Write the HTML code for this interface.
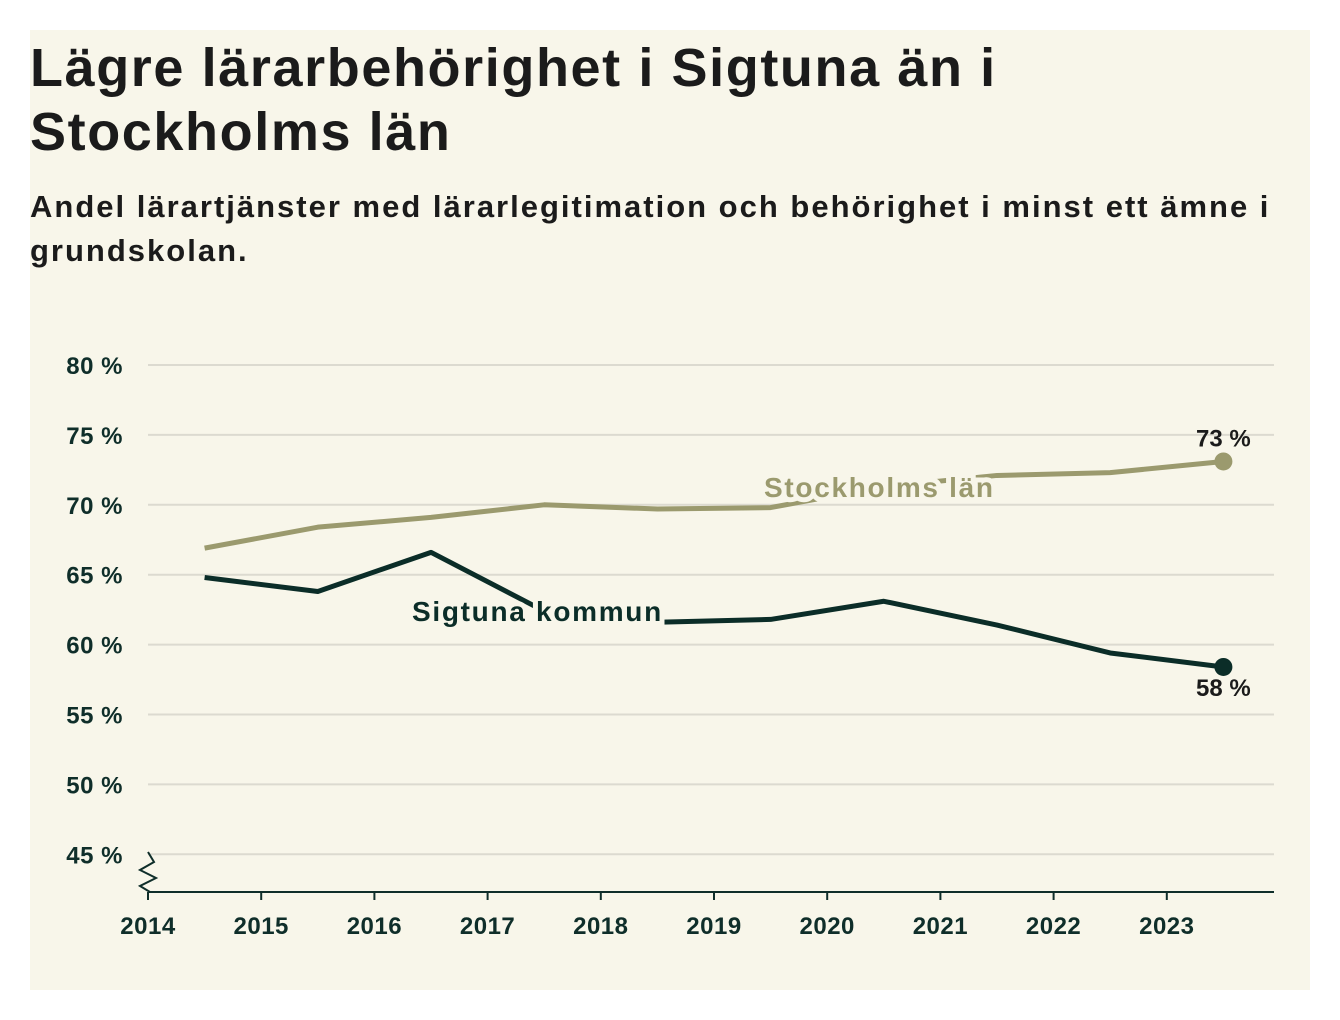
<!DOCTYPE html>
<html><head><meta charset="utf-8"><style>
body{margin:0;background:#fff;width:1340px;height:1020px;overflow:hidden;font-family:"Liberation Sans","DejaVu Sans",sans-serif}
#card{position:absolute;left:30px;top:30px;width:1280px;height:960px;background:#f8f6ea}
h1{position:absolute;left:0;top:6px;margin:0;font-size:54px;line-height:64px;font-weight:600;color:#1b1b1b;letter-spacing:1.6px;white-space:nowrap}
h2{position:absolute;left:0;top:155px;margin:0;font-size:31px;line-height:44px;font-weight:600;color:#1b1b1b;width:1275px;letter-spacing:2.0px}
svg{position:absolute;left:0;top:0}
</style></head><body>
<div id="card">
<h1>Lägre lärarbehörighet i Sigtuna än i<br>Stockholms län</h1>
<h2>Andel lärartjänster med lärarlegitimation och behörighet i minst ett ämne i grundskolan.</h2>
</div>
<svg id="chart" width="1340" height="1020"></svg>
<script>
const years=[2014,2015,2016,2017,2018,2019,2020,2021,2022,2023];
const yTicks=[45,50,55,60,65,70,75,80];
const pointYears=[2014.5,2015.5,2016.5,2017.5,2018.5,2019.5,2020.5,2021.5,2022.5,2023.5];
const stockholm=[66.9,68.4,69.1,70.0,69.7,69.8,71.3,72.1,72.3,73.1];
const sigtuna=[64.8,63.8,66.6,62.4,61.6,61.8,63.1,61.4,59.4,58.4];
const NS='http://www.w3.org/2000/svg';
const svg=document.getElementById('chart');
const x=v=>148+(v-2014)*113.2;
const y=v=>365+(80-v)*13.98;
function mk(t,a,txt){const e=document.createElementNS(NS,t);for(const k in a)e.setAttribute(k,a[k]);if(txt!=null)e.textContent=txt;svg.appendChild(e);return e;}
yTicks.forEach(v=>{
 const g=mk('line',{x1:148,x2:1274,y1:y(v),y2:y(v),stroke:'#dcdad0','stroke-width':2});
 
 
 const t=mk('text',{x:123,y:y(v)+9,'text-anchor':'end','font-size':24,fill:'#0f2e2a','font-weight':'600','letter-spacing':0.5},v+' %');
 
 
});
const ax=mk('line',{x1:148,x2:1274,y1:892,y2:892,stroke:'#0f2e2a','stroke-width':2});


const br=mk('polyline',{points:'148,852 154,862 140,870 156,878 140,886 150,892',fill:'none',stroke:'#0f2e2a','stroke-width':2});


years.forEach(v=>{
 const tk=mk('line',{x1:x(v),x2:x(v),y1:892,y2:900,stroke:'#0f2e2a','stroke-width':2});
 
 
 const t=mk('text',{x:x(v),y:934,'text-anchor':'middle','font-size':24,fill:'#0f2e2a','font-weight':'600','letter-spacing':0.5},v);
 
 
});
function series(vals,color,name){
 const p=mk('polyline',{points:vals.map((v,i)=>x(pointYears[i])+','+y(v)).join(' '),fill:'none',stroke:color,'stroke-width':5,'stroke-linejoin':'round'});
 
 
 const n=vals.length-1;
 const c=mk('circle',{cx:x(pointYears[n]),cy:y(vals[n]),r:9,fill:color});
 
 
}
series(stockholm,'#9b9a6e','stockholm');
series(sigtuna,'#0b2d28','sigtuna');
function label(txt,lx,ly,color,name){
 const t=mk('text',{x:lx,y:ly,'font-size':28,fill:color,'font-weight':'600','letter-spacing':1.7,stroke:'#f8f6ea','stroke-width':10,'paint-order':'stroke'},txt);
 
 
}
label('Stockholms län',764,497,'#9b9a6e','stockholm-label');
label('Sigtuna kommun',412,621,'#0b2d28','sigtuna-label');
const l1=mk('text',{x:x(2023.5),y:y(stockholm[9])-15,'text-anchor':'middle','font-size':24,fill:'#1b1b1b','font-weight':'600'},Math.round(stockholm[9])+' %');


const l2=mk('text',{x:x(2023.5),y:y(sigtuna[9])+29,'text-anchor':'middle','font-size':24,fill:'#1b1b1b','font-weight':'600'},Math.round(sigtuna[9])+' %');


</script>
</body></html>
